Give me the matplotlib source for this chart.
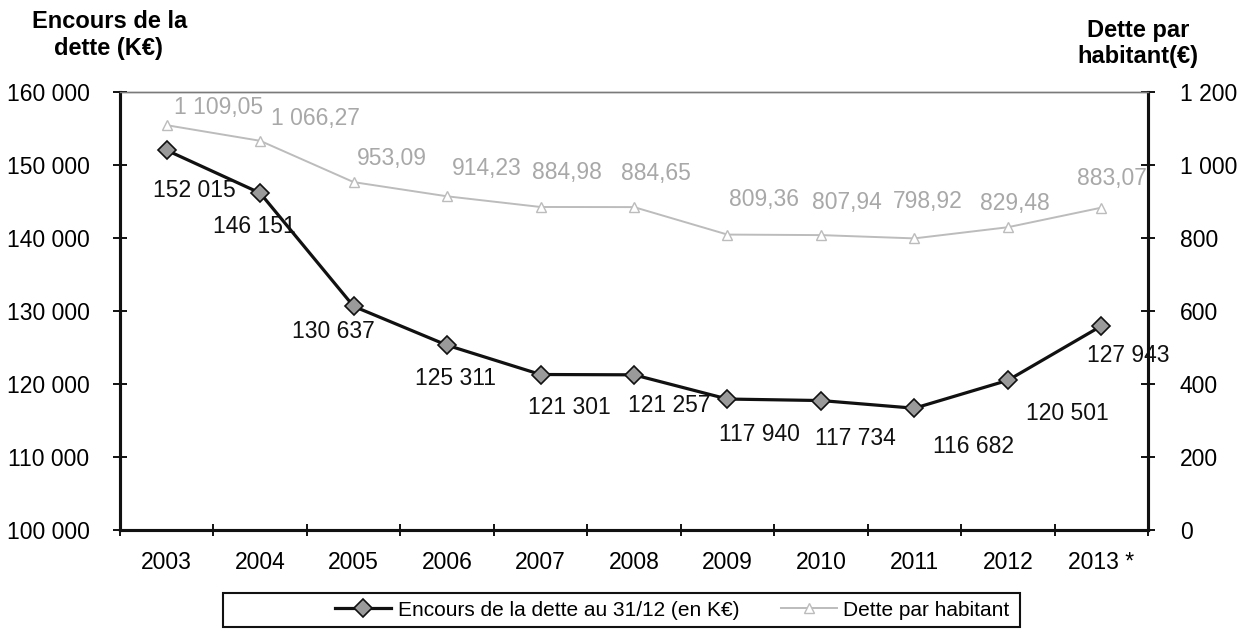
import matplotlib
matplotlib.use("Agg")
import matplotlib.pyplot as plt
from matplotlib.ticker import FuncFormatter, FixedLocator
from matplotlib.patches import Rectangle

plt.rcParams['font.family'] = ['Liberation Sans', 'DejaVu Sans']

# ---- data ----
years = ["2003", "2004", "2005", "2006", "2007", "2008", "2009", "2010", "2011", "2012", "2013 *"]
encours = [152015, 146151, 130637, 125311, 121301, 121257, 117940, 117734, 116682, 120501, 127943]
encours_labels = ["152 015", "146 151", "130 637", "125 311", "121 301", "121 257",
                  "117 940", "117 734", "116 682", "120 501", "127 943"]
dette_hab = [1109.05, 1066.27, 953.09, 914.23, 884.98, 884.65, 809.36, 807.94, 798.92, 829.48, 883.07]
dette_labels = ["1 109,05", "1 066,27", "953,09", "914,23", "884,98", "884,65",
                "809,36", "807,94", "798,92", "829,48", "883,07"]

# label offsets in pixels (style): (dx, dy) with dy positive = downwards
black_off = [(28, 40), (-6, 33), (-20, 25), (8, 33), (29, 33), (35, 31),
             (32, 35), (34, 38), (59, 38), (60, 33), (27, 29)]
gray_off = [(52, 18), (55, 22), (38, 24), (40, 28), (26, 34), (22, 34),
            (37, 35), (26, 33), (13, 37), (7, 24), (11, 29)]

BLACK = "#111111"
GRAY = "#bcbcbc"
GRAY_TXT = "#a8a8a8"
FS = 16.5

fig = plt.figure(figsize=(12.45, 6.30), dpi=100)
ax = fig.add_axes([120 / 1245, (630 - 530) / 630, (1148 - 120) / 1245, (530 - 92) / 630])
ax2 = ax.twinx()

x = list(range(len(years)))

# black series
l1, = ax.plot(x, encours, color=BLACK, lw=2.3, marker="D", markersize=9,
              markerfacecolor="#9a9a9a", markeredgecolor=BLACK, markeredgewidth=1.2,
              zorder=5, label="Encours de la dette au 31/12 (en K€)")
# gray series
l2, = ax2.plot(x, dette_hab, color=GRAY, lw=1.4, marker="^", markersize=7,
               markerfacecolor="white", markeredgecolor=GRAY, markeredgewidth=1.0,
               zorder=4, label="Dette par habitant")

for xi, v, lab, (dx, dy) in zip(x, encours, encours_labels, black_off):
    ax.annotate(lab, (xi, v), xytext=(dx, -dy), textcoords="offset pixels",
                ha="center", va="center", fontsize=FS, color=BLACK, zorder=6)
for xi, v, lab, (dx, dy) in zip(x, dette_hab, dette_labels, gray_off):
    ax2.annotate(lab, (xi, v), xytext=(dx, dy), textcoords="offset pixels",
                 ha="center", va="center", fontsize=FS, color=GRAY_TXT, zorder=6)

# axes limits / ticks
ax.set_xlim(-0.5, len(years) - 0.5)
ax.set_ylim(100000, 160000)
ax2.set_ylim(0, 1200)
ax.set_yticks(range(100000, 160001, 10000))
ax2.set_yticks(range(0, 1201, 200))
fmt = FuncFormatter(lambda v, p: f"{v:,.0f}".replace(",", " "))
ax.yaxis.set_major_formatter(fmt)
ax2.yaxis.set_major_formatter(fmt)

ax.set_xticks(x)
ax.set_xticklabels(years)
ax.xaxis.set_minor_locator(FixedLocator([i - 0.5 for i in range(len(years) + 1)]))
ax.tick_params(axis="x", which="major", length=0, pad=15, labelsize=FS)
ax.tick_params(axis="x", which="minor", length=9, width=1.4, direction="inout", color=BLACK)
ax.tick_params(axis="y", which="major", length=10, width=1.4, direction="inout",
               pad=17, labelsize=FS, color=BLACK)
ax2.tick_params(axis="y", which="major", length=10, width=1.4, direction="inout",
                pad=18, labelsize=FS, color=BLACK)

for a in (ax, ax2):
    for s in ("left", "right", "bottom"):
        a.spines[s].set_linewidth(2.2)
        a.spines[s].set_color(BLACK)
    a.spines["top"].set_color("#7a7a7a")
    a.spines["top"].set_linewidth(1.0)
    a.spines["top"].set_linestyle((0, (1, 1)))
ax.set_zorder(ax2.get_zorder() + 1)
ax.patch.set_visible(False)

# axis titles
fig.text(110 / 1245, 1 - 21 / 630, "Encours de la", ha="center", va="center",
         fontsize=17, fontweight="bold")
fig.text(108 / 1245, 1 - 48 / 630, "dette (K€)", ha="center", va="center",
         fontsize=17, fontweight="bold")
fig.text(1138 / 1245, 1 - 30 / 630, "Dette par", ha="center", va="center",
         fontsize=17, fontweight="bold")
fig.text(1138 / 1245, 1 - 57 / 630, "habitant(€)", ha="center", va="center",
         fontsize=17, fontweight="bold")

# legend: frame drawn as a rectangle, entries placed inside it
fig.patches.append(Rectangle((223 / 1245, 1 - 627 / 630), (1020 - 223) / 1245, 34 / 630,
                             transform=fig.transFigure, fill=False, edgecolor=BLACK,
                             linewidth=1.5, zorder=1))
leg = fig.legend(handles=[l1, l2], loc="center left", bbox_to_anchor=(335 / 1245, 1 - 610 / 630),
                 ncol=2, frameon=False, fontsize=15, handlelength=2.7,
                 handletextpad=0.3, columnspacing=2.0, borderpad=0, borderaxespad=0)

fig.savefig("out.png", dpi=100)
